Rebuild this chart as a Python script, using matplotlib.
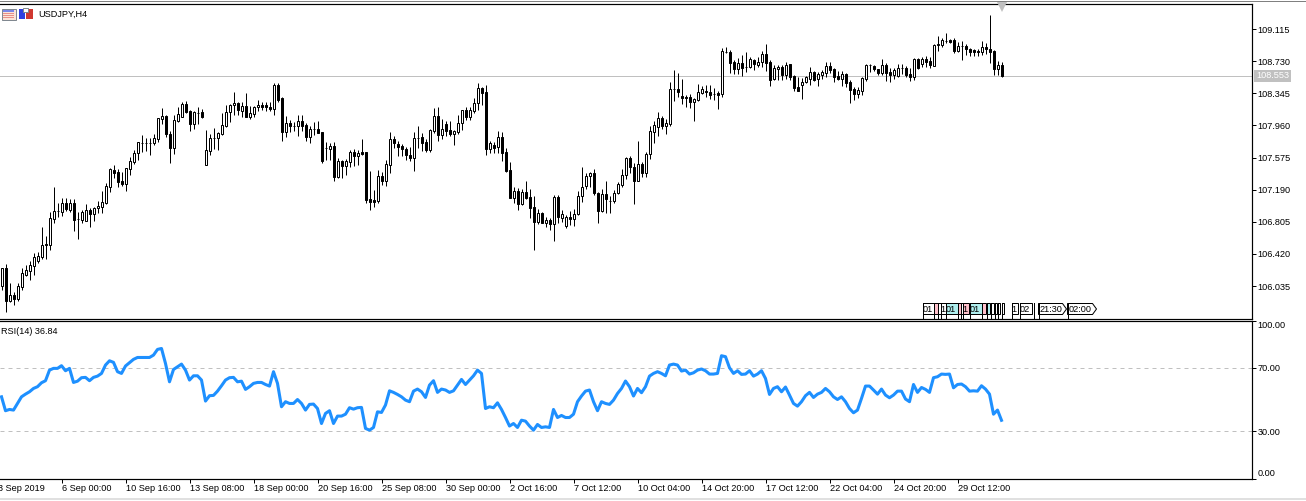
import matplotlib
matplotlib.use("Agg")
import matplotlib.pyplot as plt
from matplotlib.patches import Polygon, Rectangle
from matplotlib.lines import Line2D
from matplotlib.transforms import Affine2D, blended_transform_factory

# USDJPY H4 candles
opens = [
    106.035, 106.251, 105.856, 105.927, 105.879, 106.023, 106.167, 106.215, 106.275, 106.335,
    106.383, 106.539, 106.527, 106.838, 106.934, 106.922, 107.030, 106.946, 107.030, 106.838,
    106.826, 106.814, 106.946, 106.898, 106.970, 106.982, 107.030, 107.222, 107.426, 107.402,
    107.294, 107.258, 107.438, 107.521, 107.629, 107.749, 107.749, 107.749, 107.749, 107.797,
    108.037, 108.073, 107.857, 107.689, 108.013, 108.061, 108.217, 108.133, 107.977, 108.109,
    108.121, 107.485, 107.653, 107.809, 107.809, 107.857, 107.953, 108.121, 108.205, 108.229,
    108.133, 108.193, 108.061, 108.097, 108.181, 108.205, 108.205, 108.181, 108.157, 108.444,
    108.288, 107.881, 107.989, 107.953, 107.953, 108.013, 107.965, 107.821, 107.917, 107.917,
    107.881, 107.689, 107.677, 107.713, 107.342, 107.533, 107.474, 107.521, 107.641, 107.593,
    107.641, 107.641, 107.078, 107.066, 107.054, 107.354, 107.294, 107.485, 107.797, 107.737,
    107.713, 107.677, 107.605, 107.569, 107.809, 107.821, 107.761, 107.665, 107.893, 108.073,
    107.845, 107.977, 107.905, 107.857, 107.881, 107.989, 108.145, 108.061, 108.133, 108.229,
    108.408, 108.360, 107.677, 107.725, 107.701, 107.821, 107.641, 107.426, 107.090, 107.174,
    107.018, 107.162, 107.102, 106.982, 106.802, 106.910, 106.790, 106.826, 106.778, 107.102,
    106.850, 106.754, 106.862, 106.838, 106.898, 107.114, 107.234, 107.354, 107.390, 107.150,
    106.934, 107.138, 107.054, 107.054, 107.150, 107.246, 107.366, 107.569, 107.462, 107.294,
    107.497, 107.390, 107.617, 107.881, 107.941, 108.049, 107.953, 107.977, 108.396, 108.396,
    108.312, 108.300, 108.300, 108.241, 108.265, 108.348, 108.372, 108.360, 108.336, 108.348,
    108.336, 108.840, 108.840, 108.720, 108.636, 108.708, 108.660, 108.660, 108.744, 108.684,
    108.720, 108.816, 108.720, 108.516, 108.636, 108.660, 108.564, 108.696, 108.552, 108.420,
    108.444, 108.480, 108.516, 108.600, 108.516, 108.564, 108.588, 108.672, 108.636, 108.552,
    108.516, 108.576, 108.480, 108.396, 108.336, 108.372, 108.516, 108.684, 108.672, 108.636,
    108.588, 108.684, 108.600, 108.564, 108.552, 108.648, 108.648, 108.576, 108.540, 108.756,
    108.696, 108.756, 108.732, 108.672, 108.924, 108.924, 108.972, 108.984, 108.984, 108.852,
    108.912, 108.912, 108.876, 108.864, 108.852, 108.840, 108.900, 108.876, 108.852, 108.636,
    108.684,
]
closes = [
    106.251, 105.856, 105.927, 105.879, 106.035, 106.191, 106.227, 106.287, 106.383, 106.395,
    106.527, 106.527, 106.850, 106.934, 106.934, 107.030, 106.958, 107.030, 106.826, 106.838,
    106.922, 106.946, 106.898, 106.970, 106.994, 107.042, 107.234, 107.438, 107.390, 107.282,
    107.258, 107.450, 107.533, 107.629, 107.761, 107.749, 107.749, 107.749, 107.809, 108.049,
    108.073, 107.857, 107.689, 108.025, 108.097, 108.217, 108.121, 107.977, 108.121, 108.109,
    108.061, 107.665, 107.809, 107.809, 107.869, 107.965, 108.121, 108.205, 108.229, 108.145,
    108.193, 108.061, 108.109, 108.181, 108.205, 108.181, 108.181, 108.157, 108.444, 108.265,
    107.881, 107.989, 107.953, 107.953, 108.013, 107.953, 107.821, 107.917, 107.917, 107.869,
    107.533, 107.689, 107.713, 107.342, 107.533, 107.474, 107.533, 107.641, 107.593, 107.629,
    107.617, 107.066, 107.042, 107.042, 107.354, 107.294, 107.497, 107.797, 107.749, 107.701,
    107.677, 107.605, 107.569, 107.809, 107.809, 107.749, 107.665, 107.905, 108.073, 107.845,
    107.917, 107.893, 107.857, 107.893, 107.989, 108.145, 108.061, 108.145, 108.229, 108.408,
    108.348, 107.677, 107.749, 107.689, 107.821, 107.629, 107.414, 107.090, 107.174, 107.018,
    107.162, 107.090, 106.970, 106.802, 106.910, 106.790, 106.826, 106.778, 107.102, 106.862,
    106.898, 106.862, 106.838, 106.898, 107.114, 107.222, 107.354, 107.390, 107.150, 106.934,
    107.138, 107.078, 107.054, 107.150, 107.258, 107.366, 107.569, 107.462, 107.294, 107.497,
    107.390, 107.617, 107.893, 107.965, 108.049, 107.953, 107.989, 108.396, 108.396, 108.360,
    108.288, 108.288, 108.241, 108.276, 108.360, 108.396, 108.360, 108.324, 108.336, 108.324,
    108.852, 108.840, 108.708, 108.636, 108.708, 108.648, 108.660, 108.756, 108.696, 108.720,
    108.816, 108.708, 108.504, 108.648, 108.660, 108.564, 108.684, 108.540, 108.408, 108.372,
    108.480, 108.540, 108.600, 108.504, 108.576, 108.600, 108.672, 108.624, 108.540, 108.516,
    108.576, 108.468, 108.384, 108.336, 108.384, 108.528, 108.684, 108.684, 108.636, 108.588,
    108.684, 108.588, 108.564, 108.624, 108.648, 108.648, 108.564, 108.540, 108.756, 108.648,
    108.756, 108.720, 108.684, 108.924, 108.936, 108.984, 108.972, 108.960, 108.852, 108.912,
    108.912, 108.876, 108.840, 108.840, 108.840, 108.900, 108.876, 108.840, 108.636, 108.684,
    108.553,
]
highs = [
    106.251, 106.299, 106.071, 105.963, 106.071, 106.251, 106.287, 106.335, 106.431, 106.443,
    106.742, 106.635, 106.922, 107.222, 107.030, 107.090, 107.090, 107.078, 107.078, 106.922,
    106.946, 107.018, 106.970, 106.982, 107.054, 107.174, 107.270, 107.450, 107.485, 107.438,
    107.402, 107.450, 107.581, 107.665, 107.761, 107.845, 107.809, 107.809, 107.857, 108.049,
    108.169, 108.085, 107.893, 108.085, 108.181, 108.241, 108.253, 108.145, 108.133, 108.181,
    108.157, 107.905, 107.857, 107.929, 107.881, 108.109, 108.205, 108.217, 108.360, 108.241,
    108.241, 108.348, 108.193, 108.193, 108.265, 108.241, 108.241, 108.241, 108.468, 108.468,
    108.300, 108.073, 108.025, 108.001, 108.085, 108.085, 107.989, 107.953, 108.001, 108.013,
    107.881, 107.761, 107.749, 107.761, 107.569, 107.545, 107.557, 107.665, 107.677, 107.665,
    107.797, 107.641, 107.414, 107.186, 107.426, 107.402, 107.545, 107.881, 107.833, 107.773,
    107.737, 107.701, 107.701, 107.881, 107.953, 107.869, 107.797, 107.917, 108.169, 108.181,
    108.037, 108.013, 108.013, 107.905, 108.085, 108.145, 108.181, 108.181, 108.288, 108.468,
    108.420, 108.444, 107.773, 107.761, 107.893, 107.881, 107.689, 107.521, 107.222, 107.210,
    107.198, 107.294, 107.198, 107.114, 106.958, 106.922, 106.862, 106.850, 107.126, 107.126,
    106.946, 106.886, 106.934, 106.958, 107.174, 107.462, 107.390, 107.402, 107.438, 107.162,
    107.198, 107.294, 107.114, 107.186, 107.282, 107.438, 107.581, 107.593, 107.509, 107.773,
    107.521, 107.641, 107.953, 108.013, 108.121, 108.073, 108.037, 108.480, 108.624, 108.588,
    108.516, 108.324, 108.336, 108.288, 108.456, 108.432, 108.444, 108.444, 108.408, 108.372,
    108.888, 108.900, 108.864, 108.744, 108.768, 108.804, 108.840, 108.780, 108.756, 108.780,
    108.852, 108.936, 108.744, 108.684, 108.684, 108.684, 108.720, 108.696, 108.564, 108.540,
    108.528, 108.552, 108.660, 108.612, 108.600, 108.624, 108.720, 108.720, 108.648, 108.612,
    108.612, 108.588, 108.504, 108.420, 108.420, 108.540, 108.696, 108.696, 108.684, 108.636,
    108.756, 108.708, 108.648, 108.648, 108.696, 108.696, 108.672, 108.648, 108.768, 108.768,
    108.780, 108.792, 108.780, 108.936, 109.032, 109.008, 109.068, 108.996, 109.008, 108.960,
    108.972, 108.936, 108.888, 108.876, 108.876, 108.972, 108.948, 109.283, 108.864, 108.732,
    108.720,
]
lows = [
    105.987, 105.724, 105.844, 105.808, 105.856, 105.987, 106.155, 106.107, 106.167, 106.311,
    106.359, 106.359, 106.467, 106.790, 106.862, 106.874, 106.934, 106.922, 106.694, 106.599,
    106.790, 106.814, 106.742, 106.814, 106.910, 106.910, 107.018, 107.162, 107.330, 107.222,
    107.234, 107.174, 107.366, 107.497, 107.545, 107.641, 107.653, 107.605, 107.725, 107.761,
    107.977, 107.821, 107.509, 107.617, 108.001, 108.061, 108.109, 107.893, 107.917, 107.977,
    108.049, 107.485, 107.605, 107.677, 107.665, 107.845, 107.941, 108.001, 108.085, 108.085,
    108.061, 108.061, 108.037, 108.061, 108.133, 108.145, 108.133, 108.133, 108.085, 108.241,
    107.773, 107.821, 107.881, 107.893, 107.833, 107.893, 107.773, 107.749, 107.845, 107.869,
    107.509, 107.545, 107.545, 107.294, 107.330, 107.330, 107.366, 107.462, 107.474, 107.485,
    107.605, 107.030, 106.946, 106.982, 107.030, 107.246, 107.234, 107.390, 107.689, 107.593,
    107.593, 107.545, 107.533, 107.414, 107.689, 107.653, 107.641, 107.641, 107.869, 107.773,
    107.797, 107.833, 107.833, 107.725, 107.857, 107.905, 108.025, 108.025, 108.109, 108.145,
    108.205, 107.605, 107.629, 107.629, 107.629, 107.533, 107.402, 107.090, 107.030, 106.946,
    107.006, 107.078, 106.850, 106.467, 106.778, 106.790, 106.742, 106.706, 106.575, 106.790,
    106.802, 106.730, 106.766, 106.754, 106.886, 107.042, 107.198, 107.222, 107.126, 106.790,
    106.922, 106.910, 106.910, 107.030, 107.138, 107.222, 107.318, 107.390, 107.018, 107.294,
    107.342, 107.342, 107.557, 107.749, 107.833, 107.917, 107.857, 107.953, 108.253, 108.300,
    108.217, 108.181, 108.169, 108.013, 108.253, 108.336, 108.300, 108.276, 108.265, 108.157,
    108.300, 108.828, 108.588, 108.576, 108.576, 108.552, 108.600, 108.648, 108.624, 108.660,
    108.660, 108.612, 108.432, 108.504, 108.504, 108.504, 108.516, 108.504, 108.372, 108.372,
    108.276, 108.468, 108.444, 108.492, 108.432, 108.516, 108.540, 108.588, 108.480, 108.504,
    108.432, 108.420, 108.229, 108.265, 108.288, 108.324, 108.492, 108.600, 108.612, 108.564,
    108.564, 108.492, 108.480, 108.516, 108.540, 108.576, 108.540, 108.492, 108.504, 108.636,
    108.660, 108.660, 108.648, 108.672, 108.852, 108.900, 108.948, 108.948, 108.828, 108.840,
    108.744, 108.804, 108.792, 108.792, 108.792, 108.804, 108.816, 108.708, 108.564, 108.564,
    108.540,
]
rsi = [
    51.7, 42.9, 43.7, 43.3, 47.5, 51.7, 53.4, 54.9, 57.0, 58.1,
    60.6, 61.9, 68.6, 69.7, 69.7, 71.4, 68.2, 69.7, 60.8, 61.6,
    63.8, 64.0, 61.9, 64.0, 64.8, 66.5, 71.8, 74.5, 73.5, 67.6,
    66.5, 71.2, 73.3, 75.4, 76.6, 76.6, 76.6, 76.6, 78.1, 81.7,
    82.3, 72.8, 61.2, 69.0, 70.7, 72.4, 68.6, 62.3, 65.0, 65.0,
    62.3, 49.0, 52.4, 52.6, 55.3, 58.7, 62.3, 63.8, 64.0, 61.2,
    61.6, 56.4, 58.1, 60.2, 60.8, 60.8, 59.5, 58.5, 67.6, 60.2,
    45.4, 48.6, 47.5, 47.5, 50.0, 47.5, 43.3, 46.9, 47.1, 44.3,
    34.8, 41.2, 42.9, 34.8, 39.5, 39.5, 40.7, 44.8, 43.9, 44.8,
    45.0, 31.7, 30.6, 32.3, 42.2, 41.8, 46.5, 55.5, 54.5, 53.2,
    51.7, 49.6, 48.6, 55.3, 56.6, 54.9, 51.3, 59.1, 61.9, 54.5,
    56.6, 56.0, 54.5, 55.5, 59.1, 62.7, 59.5, 62.3, 65.0, 68.6,
    66.5, 44.3, 45.4, 44.8, 47.9, 43.7, 38.6, 33.2, 34.8, 32.3,
    36.9, 36.3, 33.2, 30.6, 34.2, 32.3, 32.7, 32.3, 43.7, 38.6,
    39.9, 38.6, 38.6, 40.7, 48.6, 52.2, 55.3, 56.0, 48.6, 42.9,
    48.6, 47.5, 46.9, 49.6, 53.8, 57.0, 61.7, 58.1, 52.2, 57.0,
    54.3, 58.1, 64.8, 66.5, 67.6, 66.5, 65.0, 71.8, 72.4, 71.8,
    68.0, 68.6, 66.1, 66.9, 68.6, 69.3, 68.2, 66.1, 66.1, 66.5,
    77.7, 77.1, 70.1, 66.5, 68.2, 65.9, 66.1, 68.2, 64.8, 66.1,
    68.2, 63.3, 53.2, 57.0, 58.1, 54.9, 57.9, 52.8, 47.5, 45.8,
    48.6, 52.4, 54.5, 51.3, 53.4, 54.5, 57.0, 54.9, 51.7, 50.0,
    51.7, 48.6, 44.3, 41.6, 43.3, 50.7, 58.5, 58.5, 56.0, 53.4,
    56.6, 52.8, 51.1, 52.8, 55.3, 55.3, 50.3, 48.6, 59.5, 54.5,
    57.6, 56.4, 54.5, 63.8, 64.4, 66.1, 65.9, 66.1, 57.4, 59.5,
    59.8, 58.1, 55.3, 55.5, 55.3, 58.7, 56.6, 53.4, 40.7, 43.3,
    36.84,
]
price_ticks = [109.115, 108.730, 108.345, 107.960, 107.575, 107.190, 106.805, 106.420, 106.035]
rsi_ticks = [100, 70, 30, 0]
date_labels = [
    "3 Sep 2019", "6 Sep 00:00", "10 Sep 16:00", "13 Sep 08:00", "18 Sep 00:00",
    "20 Sep 16:00", "25 Sep 08:00", "30 Sep 00:00", "2 Oct 16:00", "7 Oct 12:00",
    "10 Oct 04:00", "14 Oct 20:00", "17 Oct 12:00", "22 Oct 04:00", "24 Oct 20:00",
    "29 Oct 12:00",
]
last_price = 108.553

W, H = 1306, 501
PX = 0.72
FONT = "Liberation Sans"
FS = 6.6
GREY = "#C0C0C0"
plt.rcParams["font.family"] = FONT
plt.rcParams["font.size"] = FS

fig = plt.figure(figsize=(W / 100, H / 100), dpi=100, facecolor="white")
# pixel coordinates (top-left origin) for the terminal decorations
pix = Affine2D().scale(1 / W, -1 / H).translate(0, 1) + fig.transFigure


def axes_px(top, bottom):
    return fig.add_axes([0, 1 - bottom / H, 1252 / W, (bottom - top) / H])


ax = axes_px(3.5, 318.5)
ax2 = axes_px(320.5, 478.5)
xs = list(range(len(closes)))

for a in (ax, ax2):
    a.set_xlim(-0.375, 312.625)
    a.spines["left"].set_visible(False)
    for s in ("top", "right", "bottom"):
        a.spines[s].set_linewidth(PX * 1.2)
    a.yaxis.tick_right()
    a.tick_params(axis="y", length=3.0, width=PX, pad=1.0, labelsize=FS)

# candles
ax.set_ylim(105.646, 109.421)
ax.vlines(xs, lows, highs, color="black", lw=PX, zorder=2)
for x, o, c in zip(xs, opens, closes):
    up = c >= o
    ax.bar(x, abs(c - o), bottom=min(o, c), width=0.5,
           facecolor="white" if up else "black", edgecolor="black", lw=PX, zorder=3)
ax.axhline(last_price, color=GREY, lw=PX, zorder=1)
ax.plot([xs[-1]], [109.385], marker="v", ms=6.5, color=GREY, mew=0, clip_on=False, zorder=4)
ax.set_xticks([])
ax.set_yticks(price_ticks)
ax.set_yticklabels([f"{p:.3f}" for p in price_ticks])
ax.text(1.0032, last_price, f"{last_price:.3f}", transform=ax.get_yaxis_transform(),
        color="white", va="center", ha="left", fontsize=FS, clip_on=False,
        bbox=dict(facecolor=GREY, edgecolor="none", pad=1.2))

# RSI
ax2.set_ylim(0, 100)
ax2.axhline(70, color=GREY, lw=PX, dashes=(4, 4))
ax2.axhline(30, color=GREY, lw=PX, dashes=(4, 4))
ax2.plot(xs, rsi, color="#1E90FF", lw=2.2, solid_joinstyle="round")
ax2.set_yticks(rsi_ticks)
ax2.set_yticklabels([f"{v:.2f}" for v in rsi_ticks])
for lab, v in zip(ax2.get_yticklabels(), rsi_ticks):
    if v == 100:
        lab.set_verticalalignment("top")
        lab.set_y(v)
    elif v == 0:
        lab.set_verticalalignment("bottom")

tick_pos = [-1 + 16 * k for k in range(len(date_labels))]
ax2.set_xticks(tick_pos[1:])
ax2.set_xticklabels(date_labels[1:], ha="left")
ax2.tick_params(axis="x", length=3.0, width=PX, pad=1.0, labelsize=FS)
first = ax2.text(tick_pos[0], 491, date_labels[0],
                 transform=blended_transform_factory(ax2.transData, pix),
                 clip_on=False, fontsize=FS, va="baseline")

# window titles
fig.text(38 / W, 1 - 17 / H, "USDJPY,H4", fontsize=FS)
fig.text(1 / W, 1 - 333.5 / H, "RSI(14) 36.84", fontsize=FS)


def rect(x0, y0, x1, y1, fc, ec="none"):
    fig.add_artist(Rectangle((x0, y0), x1 - x0, y1 - y0, transform=pix, fc=fc, ec=ec, lw=PX))


# top and bottom window edges
fig.add_artist(Line2D([0, W], [1.5, 1.5], transform=pix, color="#808080", lw=PX))
fig.add_artist(Line2D([0, W], [499.5, 499.5], transform=pix, color="#E0E0E0", lw=1.4))

# toolbar icons
rect(1.5, 8.5, 15.5, 19.5, "#FBE3D8", "#808890")
rect(3, 10, 14, 11.5, "#7A86E8")
for row in (13, 15, 17):
    rect(3, row, 14, row + 1, "#E89088")
rect(18.5, 8.5, 25, 18.5, "#3040E0")
rect(26, 8.5, 33, 18.5, "#D03830")
rect(23, 8, 28, 12, "white", "#808890")

# period separators sitting on the bottom of the price window
boxes = [
    (922, 933, "white", "01"), (933, 937, "#FFC0CB", ""), (937, 940, "white", ""),
    (940, 945, "white", "1"), (945, 957, "#AFEEEE", "01"), (957, 960, "#FFC0CB", ""),
    (960, 962, "white", ""), (962, 968, "#FFC0CB", "1"), (969, 981, "#AFEEEE", "01"),
    (981, 985, "#FFC0CB", ""), (986, 989, "#AFEEEE", ""), (990, 993, "white", ""),
    (994, 996, "white", ""), (997, 999, "white", ""), (1001, 1003, "white", ""),
    (1011, 1017, "white", "1"), (1019, 1031, "white", "02"), (1033, 1033.5, "white", ""),
]
for x0, x1, fc, label in boxes:
    rect(x0 + 0.5, 303.5, x1 + 0.5, 314.5, fc, "black")
    fig.add_artist(Line2D([x0 + 0.5, x0 + 0.5], [303, 318], transform=pix, color="black", lw=PX))
    if label:
        fig.text((x0 + x1) / 2 / W, 1 - 309 / H, label, ha="center", va="center", fontsize=FS)

for x0, x1, label in [(1038, 1066, "21:30"), (1067, 1096, "02:00")]:
    pts = [(x0 + .5, 303.5), (x1 - 3.5, 303.5), (x1 + .5, 309), (x1 - 3.5, 314.5), (x0 + .5, 314.5)]
    fig.add_artist(Polygon(pts, closed=True, transform=pix, fc="white", ec="black", lw=PX))
    fig.add_artist(Line2D([x0 + .5, x0 + .5], [303, 318], transform=pix, color="black", lw=PX))
    fig.text((x0 + 1.5) / W, 1 - 309 / H, label, ha="left", va="center", fontsize=FS)

fig.savefig("out.png", dpi=100, facecolor="white")
